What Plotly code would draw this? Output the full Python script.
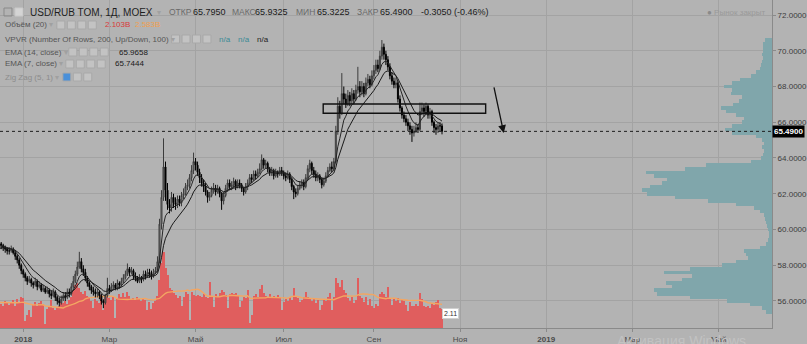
import pandas as pd
import plotly.graph_objects as go

# ---------------- data ----------------
first_open = 58.5
close = [58.6, 58.8, 58.9, 59.1, 59.0, 59.2, 59.3, 59.1, 59.2,
         59.1, 59.0, 58.9, 58.8, 58.8, 58.9, 58.7, 58.5, 58.3, 58.0,
         57.7, 57.5, 57.3, 57.1, 57.2, 57.0, 56.9, 57.1, 56.8, 56.9,
         56.6, 56.7, 56.5, 56.6, 56.4, 56.3, 56.5, 56.2, 56.0, 55.9,
         56.1, 56.3, 56.2, 56.5, 56.4, 56.8, 57.1, 57.5, 57.9, 58.2,
         57.8, 57.6, 57.3, 57.0, 56.8, 56.6, 56.5, 56.4, 56.5, 56.3,
         56.0, 55.9, 56.3, 56.7, 56.6, 56.8, 56.9, 56.7, 57.0, 56.9,
         57.1, 57.3, 57.5, 57.8, 57.6, 57.7, 57.4, 57.3, 57.1, 57.3,
         57.2, 57.5, 57.4, 57.6, 57.5, 57.4, 57.6, 57.7, 58.2, 60.3,
         61.8, 63.5, 62.2, 61.4, 61.2, 61.8, 61.5, 61.4, 61.7, 61.5,
         61.9, 62.0, 62.4, 62.5, 62.9, 63.3, 63.8, 63.6, 63.2, 62.9,
         62.6, 62.4, 62.1, 61.8, 61.9, 62.2, 62.3, 62.1, 62.3, 62.0,
         61.6, 61.9, 62.3, 62.6, 62.4, 62.5, 62.7, 62.4, 62.6, 62.5,
         62.3, 62.1, 62.4, 62.6, 62.9, 62.8, 63.1, 63.0, 63.2, 63.4,
         63.9, 63.6, 63.7, 63.4, 63.2, 63.3, 63.0, 63.2, 63.1, 63.3,
         63.2, 63.0, 62.9, 63.1, 62.8, 62.4, 62.1, 62.0, 62.3, 62.5,
         62.6, 62.4, 62.9, 63.4, 63.7, 63.3, 63.1, 62.9, 63.0, 62.8,
         62.5, 62.7, 63.0, 63.3, 63.5, 63.4, 63.8, 65.5, 66.9, 66.5,
         67.6, 67.3, 67.0, 67.5, 67.2, 67.6, 67.3, 67.8, 68.0, 67.7,
         68.0, 67.6, 68.2, 68.4, 68.1, 68.6, 68.9, 69.2, 69.0, 69.7,
         70.2, 69.8, 69.5, 69.1, 68.6, 68.3, 68.1, 68.2, 67.3, 66.8,
         66.4, 66.2, 66.0, 65.8, 65.6, 65.4, 65.5, 65.7, 65.6, 66.6,
         66.8, 66.6, 66.9, 66.4, 66.6, 66.0, 65.7, 65.6, 65.8, 65.795,
         65.49]
high = [58.8, 58.9, 59.1, 59.3, 59.2, 59.4, 59.5, 59.4, 59.3,
        59.3, 59.2, 59.1, 59.0, 59.0, 59.1, 59.0, 58.85, 58.6, 58.4,
        58.1, 57.8, 57.6, 57.4, 57.4, 57.3, 57.1, 57.3, 57.2, 57.1,
        57.0, 56.9, 56.8, 56.8, 56.7, 56.6, 56.7, 56.6, 56.3, 56.2,
        56.3, 56.5, 56.5, 56.7, 56.7, 57.0, 57.4, 57.7, 58.2, 58.75,
        58.4, 58.0, 57.8, 57.4, 57.1, 56.9, 56.8, 56.7, 56.7, 56.6,
        56.4, 56.1, 56.4, 57.3, 56.9, 57.0, 57.1, 57.0, 57.2, 57.1,
        57.3, 57.5, 57.7, 58.1, 57.9, 57.9, 57.8, 57.6, 57.4, 57.5,
        57.4, 57.7, 57.7, 57.8, 57.8, 57.7, 57.8, 57.9, 58.5, 60.6,
        62.2, 65.1, 63.8, 62.6, 61.7, 62.1, 62.0, 61.8, 61.9, 61.9,
        62.1, 62.3, 62.6, 62.8, 63.1, 63.6, 64.3, 64.0, 63.8, 63.4,
        63.1, 62.8, 62.6, 62.2, 62.1, 62.4, 62.6, 62.5, 62.5, 62.4,
        62.1, 62.1, 62.5, 62.8, 62.8, 62.7, 62.9, 62.8, 62.8, 62.8,
        62.6, 62.4, 62.6, 62.8, 63.1, 63.1, 63.3, 63.3, 63.4, 63.7,
        64.2, 64.0, 63.9, 63.8, 63.5, 63.5, 63.4, 63.4, 63.3, 63.5,
        63.5, 63.3, 63.2, 63.3, 63.2, 62.9, 62.5, 62.3, 62.5, 62.7,
        62.8, 62.8, 63.1, 63.6, 63.9, 63.8, 63.5, 63.3, 63.2, 63.1,
        62.9, 62.9, 63.2, 63.5, 63.7, 63.8, 64.0, 65.8, 67.4, 67.2,
        68.75, 68.0, 67.6, 67.8, 67.7, 67.9, 67.8, 68.1, 69.1, 68.3,
        68.3, 68.2, 68.5, 68.7, 68.6, 68.9, 69.2, 69.5, 69.5, 70.0,
        70.6, 70.4, 70.0, 69.7, 69.3, 68.8, 68.5, 68.5, 68.3, 67.5,
        66.9, 66.6, 66.4, 66.2, 66.0, 65.8, 65.8, 66.0, 65.9, 67.1,
        67.1, 67.0, 67.1, 67.0, 66.8, 66.7, 66.1, 65.9, 66.0, 66.0,
        65.9325]
low = [58.4, 58.5, 58.7, 58.8, 58.9, 58.9, 59.1, 59.0, 59.0,
       58.9, 58.8, 58.7, 58.6, 58.6, 58.7, 58.6, 58.3, 58.1, 57.8,
       57.5, 57.3, 57.1, 56.9, 57.0, 56.8, 56.7, 56.8, 56.6, 56.7,
       56.5, 56.5, 56.4, 56.4, 56.2, 56.1, 56.2, 56.0, 55.8, 55.7,
       55.8, 56.0, 56.0, 56.1, 56.2, 56.3, 56.7, 57.0, 57.4, 57.8,
       57.6, 57.4, 57.1, 56.8, 56.6, 56.4, 56.3, 56.2, 56.2, 56.1,
       55.8, 55.6, 55.8, 56.2, 56.4, 56.5, 56.6, 56.6, 56.6, 56.7,
       56.8, 57.0, 57.2, 57.4, 57.4, 57.5, 57.2, 57.1, 57.0, 57.0,
       57.0, 57.1, 57.2, 57.3, 57.3, 57.2, 57.3, 57.5, 57.6, 58.1,
       60.0, 61.6, 61.6, 61.1, 60.9, 61.0, 61.2, 61.1, 61.2, 61.3,
       61.3, 61.7, 61.9, 62.2, 62.3, 62.7, 63.1, 63.3, 63.0, 62.6,
       62.4, 62.1, 61.9, 61.5, 61.6, 61.8, 62.0, 61.9, 62.0, 61.8,
       61.1, 61.4, 61.8, 62.1, 62.2, 62.2, 62.3, 62.2, 62.3, 62.3,
       62.1, 61.9, 62.0, 62.2, 62.5, 62.6, 62.7, 62.8, 62.9, 63.1,
       63.3, 63.4, 63.4, 63.2, 63.0, 63.0, 62.8, 62.9, 62.9, 63.0,
       63.0, 62.8, 62.7, 62.8, 62.6, 62.2, 61.7, 61.8, 61.9, 62.2,
       62.3, 62.2, 62.3, 62.8, 63.2, 63.1, 62.9, 62.7, 62.7, 62.6,
       62.3, 62.4, 62.6, 62.9, 63.2, 63.2, 63.3, 63.7, 65.3, 66.2,
       66.4, 67.0, 66.8, 66.9, 66.9, 67.0, 67.0, 67.2, 67.6, 67.4,
       67.5, 67.4, 67.5, 68.0, 67.9, 68.0, 68.4, 68.7, 68.8, 68.9,
       69.5, 69.5, 69.2, 68.9, 68.4, 68.1, 67.9, 67.9, 67.1, 66.6,
       66.2, 66.0, 65.8, 65.5, 65.3, 64.9, 65.2, 65.4, 65.4, 65.5,
       66.4, 66.3, 66.4, 66.2, 66.2, 65.8, 65.4, 65.3, 65.4, 65.5,
       65.3225]
volume = [2.8, 2.6, 3.0, 2.7, 2.9, 3.1, 2.8, 2.6, 2.9,
          2.7, 2.5, 3.0, 2.8, 2.6, 2.9, 3.1, 2.4, 3.2, 2.9,
          3.4, 3.3, 0.8, 1.5, 2.0, 1.2,
          2.6, 2.9, 2.5, 2.8, 3.0, 2.7, 0.4,
          2.1, 2.3, 3.1, 2.2, 2.0, 2.3, 2.5,
          2.9, 2.8, 3.0, 2.7, 3.1, 3.5, 4.2, 4.8, 5.0, 4.5,
          4.0, 3.8, 4.1, 3.6, 3.4, 3.0, 2.2, 3.2, 3.0, 2.8,
          3.7, 2.0, 3.6, 3.6, 3.3, 3.1, 3.5, 1.1, 3.3,
          3.8, 3.5, 3.9, 3.4, 4.0, 3.6,
          3.2, 3.3, 3.1, 3.4, 3.2, 3.0, 3.3, 3.1,
          2.0, 2.9, 2.1, 2.8, 3.0, 3.6,
          5.3, 7.2, 8.4, 6.7, 5.9,
          4.4, 4.2, 3.9, 3.7, 3.3, 3.6, 2.5, 3.4, 4.0, 3.8,
          0.9, 4.0, 3.7, 3.6, 3.7, 3.6, 3.5, 3.8, 3.4, 3.3, 5.1,
          3.6, 2.3, 3.8, 3.5, 3.9, 4.2, 4.0, 3.7, 2.2, 3.8,
          3.9, 3.8, 3.9, 3.7, 2.3, 3.0, 3.5, 3.3, 4.2, 0.6, 1.5,
          3.6, 3.8, 3.5, 4.3, 4.8, 3.9,
          3.6, 3.5, 3.8, 3.4, 3.6, 3.5, 3.7, 3.4, 2.0, 2.9,
          3.2, 3.0, 3.4, 3.1, 4.4, 3.6, 3.3, 2.9, 3.1, 3.4, 4.0, 3.5,
          3.2, 3.0, 3.3, 2.8, 3.1, 2.0, 2.6, 3.2, 3.0, 3.4, 3.9, 2.0,
          3.5, 5.6, 5.0, 4.6, 5.3, 4.2, 3.9,
          3.3, 3.0, 3.4, 2.8, 3.1, 5.6, 3.6,
          3.3, 2.9, 3.4, 2.6, 3.2, 2.5, 2.2, 2.7, 2.4,
          3.8, 4.0, 3.8, 3.4, 4.6, 3.3, 2.6, 3.3,
          3.0, 3.3, 2.8, 3.2, 3.0, 2.6, 1.9, 2.9, 2.4,
          2.5, 2.7, 2.4, 3.9, 3.2, 2.4, 2.3, 2.5, 2.2,
          2.7, 2.6, 2.9, 3.1, 2.2, 2.103]

# volume profile (VPVR) rows: price level -> relative volume
vp_level = [70.6, 70.4, 70.2, 70.0, 69.8, 69.6, 69.4, 69.2, 69.0, 68.8,
            68.6, 68.4, 68.2, 68.0, 67.8, 67.6, 67.4, 67.2, 67.0, 66.8,
            66.6, 66.4, 66.2, 66.0, 65.8, 65.6, 65.4, 65.2, 65.0, 64.8,
            64.6, 64.4, 64.2, 64.0, 63.8, 63.6, 63.4, 63.2, 63.0, 62.8,
            62.6, 62.4, 62.2, 62.0, 61.8, 61.6, 61.4, 61.2, 61.0, 60.8,
            60.6, 60.4, 60.2, 60.0, 59.8, 59.6, 59.4, 59.2, 59.0, 58.8,
            58.6, 58.4, 58.2, 58.0, 57.8, 57.6, 57.4, 57.2, 57.0, 56.8,
            56.6, 56.4, 56.2, 56.0, 55.8, 55.6, 55.4]
vp_volume = [7, 9, 9, 9, 10, 9, 10, 11, 12, 16,
             21, 32, 40, 48, 40, 41, 30, 33, 39, 51,
             46, 36, 28, 30, 40, 47, 40, 16, 10, 8,
             10, 8, 9, 11, 21, 66, 87, 126, 118, 105,
             110, 122, 130, 125, 97, 64, 36, 18, 12, 8,
             7, 6, 5, 4, 3, 3, 4, 6, 12, 28,
             26, 24, 36, 50, 82, 108, 80, 90, 106, 100,
             118, 115, 82, 45, 22, 10, 6]

price_ticks = [56, 58, 60, 62, 64, 66, 68, 70, 72]
time_tick_dates = ["2018-01-01", "2018-03-01", "2018-05-01", "2018-07-02", "2018-09-03",
                   "2018-11-01", "2019-01-01", "2019-03-01", "2019-05-01"]
time_tick_labels = ["<b>2018</b>", "Мар", "Май", "Июл", "Сен", "Ноя", "<b>2019</b>", "Мар", "Май"]

last_close = 65.49
box_dates = ["2018-07-27 17:00", "2018-11-19 19:00"]
box_prices = [66.5, 67.02]
arrow_dates = ["2018-11-23 19:00", "2018-11-30 19:00"]
arrow_prices = [68.03, 65.4]

# ---------------- derived ----------------
dates = pd.bdate_range("2017-12-04", periods=len(close))
opens = [first_open] + close[:-1]
cs = pd.Series(close)
ema14 = cs.ewm(span=14, adjust=False).mean()
ema7 = cs.ewm(span=7, adjust=False).mean()
vol_ma = pd.Series(volume).rolling(20, min_periods=1).mean()

BG = "#b3b3b3"
GRID = "#a3a3a3"
AXL = "#8a8a8a"
FONT = "Liberation Sans"
PW, PH = 774.0, 328.0


def px(x):
    return x / PW


def py(y):
    return 1 - y / PH


fig = go.Figure()

fig.add_trace(go.Bar(x=dates, y=volume, marker=dict(color="#e05e5e", line=dict(width=0)),
                     xaxis="x", yaxis="y", hoverinfo="skip"))
fig.add_trace(go.Scatter(x=dates, y=vol_ma, mode="lines", line=dict(color="#f3a662", width=1.4),
                         xaxis="x", yaxis="y", hoverinfo="skip"))
fig.add_trace(go.Bar(x=vp_volume, y=vp_level, orientation="h", width=0.2,
                     marker=dict(color="#80a6ab", line=dict(width=0)),
                     xaxis="x2", yaxis="y2", hoverinfo="skip"))
fig.add_trace(go.Candlestick(x=dates, open=opens, high=high, low=low, close=close,
                             xaxis="x", yaxis="y2", whiskerwidth=0,
                             increasing=dict(line=dict(color="#3c3c3c", width=1), fillcolor="#8f8f8f"),
                             decreasing=dict(line=dict(color="#000000", width=1), fillcolor="#000000")))
fig.add_trace(go.Scatter(x=dates, y=ema14, mode="lines", line=dict(color="#1a1a1a", width=1),
                         xaxis="x", yaxis="y2", hoverinfo="skip"))
fig.add_trace(go.Scatter(x=dates, y=ema7, mode="lines", line=dict(color="#262626", width=1),
                         xaxis="x", yaxis="y2", hoverinfo="skip"))

shapes = []
annotations = []

# price line
shapes.append(dict(type="line", xref="paper", x0=0, x1=1, yref="y2", y0=last_close, y1=last_close,
                   line=dict(color="#1e1e1e", width=1, dash="dot"), layer="above"))
# user box
shapes.append(dict(type="rect", xref="x", yref="y2", x0=box_dates[0], x1=box_dates[1],
                   y0=box_prices[0], y1=box_prices[1], line=dict(color="#111", width=1.4),
                   fillcolor="rgba(0,0,0,0)", layer="above"))
# arrow
annotations.append(dict(xref="x", yref="y2", axref="x", ayref="y2",
                        x=arrow_dates[1], y=arrow_prices[1], ax=arrow_dates[0], ay=arrow_prices[0],
                        showarrow=True, arrowhead=2, arrowsize=1.2, arrowwidth=1.3,
                        arrowcolor="#111", text=""))
# last price label
annotations.append(dict(xref="paper", yref="y2", x=1, y=last_close, xanchor="left", yanchor="middle",
                        text="<b>65.4900</b>", showarrow=False, bgcolor="#000000",
                        font=dict(family=FONT, size=8, color="#ffffff"), borderpad=1))
# volume label
annotations.append(dict(xref="paper", yref="paper", x=px(452), y=py(313), xanchor="center", yanchor="middle",
                        text="2.11", showarrow=False, bgcolor="#ffffff", bordercolor="#d0d0d0",
                        font=dict(family=FONT, size=7, color="#333"), borderpad=1))


def txt(x, y, s, size=8, color="#555", anchor="left"):
    annotations.append(dict(xref="paper", yref="paper", x=px(x), y=py(y), xanchor=anchor, yanchor="middle",
                            text=s, showarrow=False, font=dict(family=FONT, size=size, color=color)))


def icons(x0, y, n, first_color=None):
    for k in range(n):
        xx = x0 + k * 10.5
        fill = first_color if (k == 0 and first_color) else "#c3c3c3"
        shapes.append(dict(type="rect", xref="paper", yref="paper", x0=px(xx), x1=px(xx + 8),
                           y0=py(y + 4), y1=py(y - 4), line=dict(color="#a9a9a9", width=1),
                           fillcolor=fill, layer="above"))


ARR = "<span style='color:#a0a0a0'>▾</span>"
# row 1
shapes.append(dict(type="rect", xref="paper", yref="paper", x0=px(4), x1=px(12), y0=py(16), y1=py(8),
                   line=dict(color="#8a8a8a", width=1), fillcolor="rgba(0,0,0,0)", layer="above"))
shapes.append(dict(type="rect", xref="paper", yref="paper", x0=px(15), x1=px(23), y0=py(16), y1=py(8),
                   line=dict(color="#c9c9c9", width=1), fillcolor="#d4d4d4", layer="above"))
txt(28, 12, "USD/RUB TOM, 1Д, MOEX", 10, "#1e1e1e")
txt(155, 12, ARR, 8, "#a0a0a0")
txt(167, 12, "ОТКР", 8.5, "#6a6a6a")
txt(191, 12, "65.7950", 9, "#1a1a1a")
txt(231, 12, "МАКС", 8.5, "#6a6a6a")
txt(254, 12, "65.9325", 9, "#1a1a1a")
txt(295, 12, "МИН", 8.5, "#6a6a6a")
txt(316, 12, "65.3225", 9, "#1a1a1a")
txt(356, 12, "ЗАКР", 8.5, "#6a6a6a")
txt(379, 12, "65.4900", 9, "#1a1a1a")
txt(420, 12, "-0.3050 (-0.46%)", 9, "#1a1a1a")
# row 2
txt(3, 25, "Объём (20) " + ARR, 8, "#555")
icons(57, 25, 4)
txt(103, 25, "2.103B", 8, "#d83a3a")
txt(133, 25, "2.583B", 8, "#f0a050")
# row 3
txt(3, 39, "VPVR (Number Of Rows, 200, Up/Down, 100) " + ARR, 8, "#555")
icons(172, 39, 4)
txt(218, 39, "n/a", 8, "#3a8a96")
txt(237, 39, "n/a", 8, "#3a8a96")
txt(256, 39, "n/a", 8, "#222")
# row 4
txt(3, 52, "EMA (14, close) " + ARR, 8, "#555")
icons(69, 52, 4)
txt(117, 52, "65.9658", 8, "#1a1a1a")
# row 5
txt(3, 64, "EMA (7, close) " + ARR, 8, "#555")
icons(66, 64, 4)
txt(113, 64, "65.7444", 8, "#1a1a1a")
# row 6
txt(3, 77, "Zig Zag (5, 1) " + ARR, 8, "#8c8c8c")
icons(63, 77, 3, first_color="#4a90d9")

# market closed
txt(770, 12, "<span style='color:#8a8a8a'>●</span> Рынок закрыт", 8, "#9a9a9a", anchor="right")
# watermark
txt(617, 341, "Активация Windows", 14, "#c2c2c2")

fig.update_layout(
    width=807, height=344,
    margin=dict(l=0, r=33, t=0, b=16),
    paper_bgcolor=BG, plot_bgcolor=BG,
    showlegend=False, barmode="overlay", bargap=0,
    font=dict(family=FONT, size=8, color="#555"),
    xaxis=dict(type="date", range=["2017-12-14 09:36", "2019-06-06 16:48"],
               rangebreaks=[dict(bounds=["sat", "mon"])],
               tickmode="array", tickvals=time_tick_dates, ticktext=time_tick_labels,
               showgrid=True, gridcolor=GRID, gridwidth=1, zeroline=False,
               showline=True, linecolor=AXL, linewidth=1, ticks="outside", ticklen=3, tickcolor=AXL,
               tickfont=dict(family=FONT, size=8, color="#4a4a4a"),
               rangeslider=dict(visible=False), fixedrange=True),
    xaxis2=dict(overlaying="x", range=[PW, 0], visible=False, fixedrange=True),
    yaxis=dict(range=[0, PH / 9.0], visible=False, showgrid=False, fixedrange=True),
    yaxis2=dict(overlaying="y", side="right", range=[54.489, 72.839],
                tickmode="array", tickvals=price_ticks,
                ticktext=[f"{v:.4f}" for v in price_ticks],
                showgrid=True, gridcolor=GRID, gridwidth=1, zeroline=False,
                showline=True, linecolor=AXL, linewidth=1, ticks="outside", ticklen=3, tickcolor=AXL,
                tickfont=dict(family=FONT, size=8, color="#3c3c3c"), fixedrange=True),
    shapes=shapes, annotations=annotations,
)

fig.write_html("out.html")
